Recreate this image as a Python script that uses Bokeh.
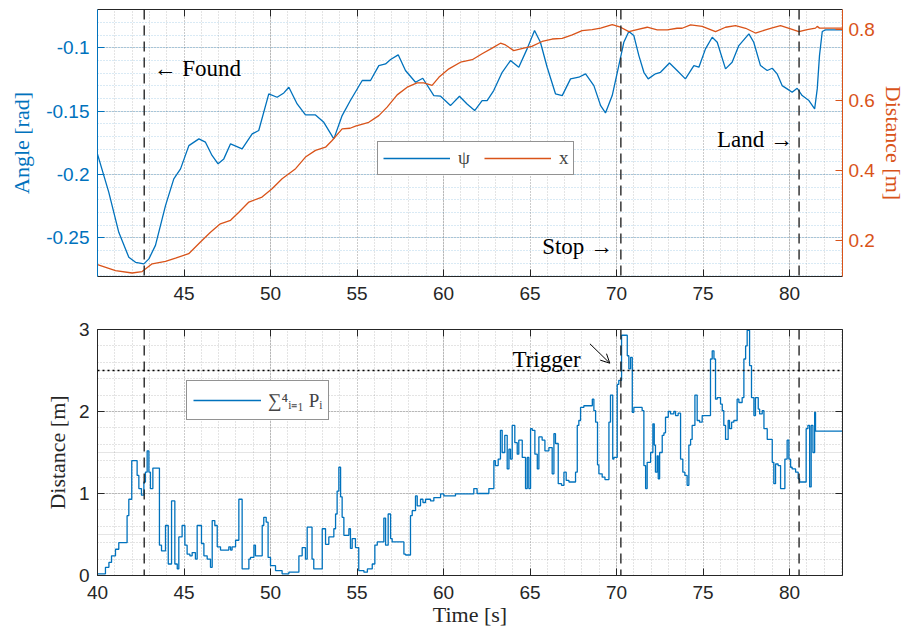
from bokeh.plotting import figure
from bokeh.layouts import column
from bokeh.models import (Range1d, LinearAxis, FixedTicker, Span, Label, Legend,
                          LegendItem, Arrow, OpenHead, Grid)
from bokeh.embed import file_html
from bokeh.resources import INLINE

BLUE = "#0072BD"
ORANGE = "#D95319"
AX = "#262626"

# ---------------- data ----------------
psi_t = [40.0, 40.65, 41.23, 41.81, 42.2, 42.68, 42.97, 43.35, 43.93, 44.41, 44.8, 45.28,
         45.86, 46.24, 46.62, 46.97, 47.3, 47.69, 48.36, 48.94, 49.32, 49.9, 50.38, 50.77,
         51.06, 51.54, 52.02, 52.6, 53.08, 53.66, 54.14, 54.6, 55.3, 55.78, 56.26, 56.65,
         56.94, 57.38, 57.8, 58.38, 58.8, 59.44, 59.83, 60.4, 60.92, 61.36, 61.8, 62.23,
         62.52, 62.9, 63.39, 63.87, 64.35, 64.83, 65.26, 65.6, 65.99, 66.47, 66.86, 67.34,
         67.82, 68.21, 68.69, 69.08, 69.36, 69.75, 70.13, 70.42, 70.71, 71.0, 71.29, 71.58,
         71.83, 72.25, 72.54, 73.06, 73.5, 73.98, 74.47, 74.76, 75.14, 75.53, 75.82, 76.3,
         76.68, 77.07, 77.65, 77.93, 78.32, 78.71, 79.0, 79.28, 79.57, 79.86, 80.15, 80.44,
         80.73, 81.12, 81.45, 81.6, 81.73, 81.89, 82.08, 83.06]
psi = [-0.184, -0.214, -0.2457, -0.2654, -0.2694, -0.2706, -0.2667, -0.256, -0.2246, -0.2035,
       -0.1956, -0.1772, -0.1719, -0.1745, -0.185, -0.1916, -0.1877, -0.1758, -0.1798, -0.168,
       -0.1653, -0.1363, -0.139, -0.1356, -0.1311, -0.1443, -0.153, -0.153, -0.1588, -0.1719,
       -0.1535, -0.142, -0.1258, -0.1258, -0.114, -0.1127, -0.1092, -0.1055, -0.1179, -0.1272,
       -0.124, -0.1377, -0.1382, -0.1456, -0.1382, -0.1443, -0.1495, -0.1416, -0.1416, -0.1337,
       -0.1193, -0.11, -0.1153, -0.1008, -0.0863, -0.0956, -0.1153, -0.1363, -0.1377, -0.1245,
       -0.1232, -0.1205, -0.1298, -0.1456, -0.1514, -0.1377, -0.114, -0.0956, -0.0871, -0.0903,
       -0.1061, -0.1193, -0.1245, -0.1205, -0.1193, -0.1119, -0.1179, -0.1245, -0.114, -0.1153,
       -0.1008, -0.0916, -0.0956, -0.1166, -0.1114, -0.0982, -0.0889, -0.0956, -0.114, -0.1179,
       -0.1161, -0.1205, -0.1298, -0.1324, -0.1351, -0.1319, -0.1377, -0.1416, -0.1482, -0.1324,
       -0.1061, -0.0871, -0.0858, -0.0858]

x_t = [40.0, 41.04, 42.0, 42.58, 43.16, 43.93, 44.51, 45.27, 45.95, 46.53, 47.1, 47.69,
       48.17, 48.75, 49.51, 50.09, 50.67, 51.45, 52.02, 52.6, 53.18, 53.56, 54.14, 54.6,
       54.91, 55.68, 56.26, 56.74, 57.32, 57.9, 58.47, 58.86, 59.34, 59.73, 60.31, 60.98,
       61.66, 62.23, 62.81, 63.29, 63.58, 64.06, 64.64, 65.1, 65.7, 66.28, 66.86, 67.44,
       68.01, 68.59, 69.08, 69.75, 70.23, 70.71, 71.19, 71.77, 72.35, 72.93, 73.5, 73.79,
       74.28, 74.95, 75.72, 76.3, 76.88, 77.46, 78.03, 78.61, 79.0, 79.48, 80.06, 80.54,
       81.02, 81.5, 81.6, 81.73, 83.06]
x_dist = [0.132, 0.115, 0.108, 0.112, 0.134, 0.141, 0.150, 0.163, 0.196, 0.224, 0.248, 0.258,
          0.281, 0.310, 0.324, 0.348, 0.376, 0.405, 0.438, 0.457, 0.466, 0.485, 0.518, 0.520,
          0.526, 0.537, 0.556, 0.580, 0.615, 0.637, 0.649, 0.649, 0.642, 0.665, 0.689, 0.708,
          0.715, 0.732, 0.748, 0.762, 0.757, 0.741, 0.748, 0.753, 0.767, 0.774, 0.776, 0.786,
          0.798, 0.801, 0.805, 0.815, 0.8075, 0.795, 0.801, 0.8075, 0.800, 0.800, 0.8046, 0.8046,
          0.814, 0.810, 0.795, 0.8075, 0.812, 0.8046, 0.791, 0.800, 0.806, 0.812, 0.803, 0.795,
          0.801, 0.805, 0.810, 0.805, 0.805]

p_t = [40.0, 40.46, 40.66, 40.81, 41.04, 41.23, 41.71, 41.81, 41.98, 42.29, 42.39, 42.54,
       42.68, 42.77, 42.87, 42.97, 43.06, 43.2, 43.58, 43.7, 43.93, 44.09, 44.28, 44.47,
       44.61, 44.7, 44.89, 45.05, 45.18, 45.34, 45.47, 45.66, 45.76, 46.01, 46.15, 46.34,
       46.53, 46.63, 46.78, 46.92, 47.11, 47.59, 47.69, 47.78, 47.98, 48.17, 48.36, 48.75,
       48.84, 49.04, 49.13, 49.52, 49.61, 49.75, 49.86, 50.0, 50.29, 50.67, 51.06, 51.64,
       51.83, 52.02, 52.12, 52.4, 52.5, 52.99, 53.18, 53.37, 53.66, 53.76, 53.85, 53.95,
       54.05, 54.14, 54.24, 54.53, 54.62, 54.72, 54.91, 55.1, 55.4, 55.6, 55.88, 56.03,
       56.17, 56.55, 56.65, 56.8, 56.94, 57.03, 57.71, 57.81, 58.09, 58.19, 58.38, 58.48,
       58.67, 58.81, 58.96, 59.25, 59.44, 59.83, 60.02, 60.69, 61.75, 61.94, 62.62, 62.91,
       63.0, 63.16, 63.29, 63.39, 63.54, 63.68, 63.78, 63.87, 63.97, 64.12, 64.26, 64.35,
       64.55, 64.74, 64.84, 64.93, 65.03, 65.13, 65.28, 65.42, 65.51, 65.7, 65.86, 66.09,
       66.28, 66.38, 66.47, 66.63, 66.82, 66.96, 67.09, 67.25, 67.63, 67.73, 67.82, 67.92,
       68.11, 68.6, 68.69, 68.79, 68.9, 68.98, 69.17, 69.33, 69.56, 69.65, 69.78, 69.85,
       70.04, 70.13, 70.29, 70.62, 70.71, 70.81, 70.91, 71.0, 71.48, 71.58, 71.68, 71.77,
       71.97, 72.1, 72.18, 72.25, 72.35, 72.41, 72.49, 72.64, 72.74, 72.83, 72.99, 73.12,
       73.31, 73.41, 73.56, 73.7, 73.83, 73.95, 74.08, 74.18, 74.28, 74.37, 74.53, 74.66,
       74.8, 74.95, 75.43, 75.53, 75.63, 75.72, 75.82, 76.01, 76.11, 76.2, 76.3, 76.45,
       76.53, 76.65, 76.78, 76.97, 77.07, 77.26, 77.36, 77.46, 77.55, 77.69, 77.8, 77.94,
       78.03, 78.19, 78.27, 78.42, 78.52, 78.71, 79.0, 79.09, 79.19, 79.34, 79.48, 79.73,
       79.86, 79.96, 80.06, 80.15, 80.35, 80.5, 80.58, 80.96, 81.06, 81.16, 81.25, 81.35,
       81.45, 81.5, 83.06]
p_sum = [0.02, 0.10, 0.16, 0.24, 0.32, 0.40, 0.73, 0.93, 1.40, 1.22, 1.06, 0.98,
         1.14, 1.26, 1.52, 1.26, 1.06, 1.31, 0.37, 0.30, 0.61, 0.14, 0.91, 0.14,
         0.08, 0.47, 0.61, 0.37, 0.26, 0.24, 0.28, 0.20, 0.61, 0.39, 0.24, 0.20,
         0.10, 0.67, 0.61, 0.35, 0.31, 0.35, 0.31, 0.35, 0.43, 0.93, 0.08, 0.20,
         0.22, 0.37, 0.24, 0.61, 0.71, 0.65, 0.22, 0.12, 0.06, 0.02, 0.04, 0.24,
         0.34, 0.20, 0.59, 0.20, 0.08, 0.57, 0.38, 0.47, 0.57, 0.75, 1.03, 1.32,
         0.96, 0.71, 0.49, 0.57, 0.33, 0.45, 0.34, 0.06, 0.04, 0.08, 0.14, 0.37,
         0.41, 0.70, 0.37, 0.75, 0.45, 0.41, 0.26, 0.25, 0.73, 0.79, 0.97, 0.85,
         0.93, 0.89, 0.93, 0.91, 0.95, 0.995, 0.97, 0.995, 1.06, 1.00, 1.06, 1.40,
         1.34, 1.42, 1.77, 1.50, 1.71, 1.30, 1.54, 1.42, 1.83, 1.62, 1.48, 1.65,
         1.44, 1.06, 1.44, 1.06, 1.79, 1.77, 1.48, 1.30, 1.69, 1.65, 1.52, 1.56,
         1.24, 1.73, 1.61, 1.12, 1.10, 1.26, 1.16, 1.14, 1.26, 1.83, 1.89, 2.05,
         2.07, 2.15, 2.01, 1.87, 1.35, 1.24, 1.20, 1.17, 1.87, 2.20, 1.42, 1.44,
         2.33, 2.38, 2.93, 2.68, 2.52, 2.66, 1.99, 2.05, 2.01, 1.34, 1.06, 1.38,
         1.50, 1.85, 1.59, 1.26, 1.46, 1.18, 1.50, 1.71, 1.74, 1.93, 2.00, 1.97,
         2.00, 1.95, 1.98, 1.42, 1.26, 1.22, 1.10, 1.59, 1.66, 1.83, 2.20, 1.89,
         1.87, 1.95, 2.64, 2.74, 2.64, 2.15, 2.17, 2.09, 2.01, 1.83, 1.66, 1.89,
         1.79, 1.87, 1.89, 2.15, 2.11, 2.17, 2.64, 2.80, 2.99, 2.56, 2.17, 1.95,
         2.17, 2.03, 1.97, 2.01, 1.79, 1.66, 1.38, 1.12, 1.36, 1.34, 1.06, 1.42,
         1.65, 1.42, 1.32, 1.30, 1.26, 1.18, 1.14, 1.79, 1.83, 1.08, 1.83, 1.50,
         1.99, 1.76, 1.76]

events = [42.7, 70.25, 80.55]      # Found, Stop, Land
trigger_level = 2.5

time_ticks_top = [45, 50, 55, 60, 65, 70, 75, 80]
time_ticks = [40, 45, 50, 55, 60, 65, 70, 75, 80]
angle_ticks = [-0.25, -0.2, -0.15, -0.1]
dist_ticks = [0.2, 0.4, 0.6, 0.8]
p_ticks = [0, 1, 2, 3]

# ---------------- helpers ----------------
TICK_FONT = "Liberation Sans"
LABEL_FONT = "Liberation Serif"
minor_time = list(range(40, 84))
minor_angle = [round(-0.28 + 0.01 * i, 2) for i in range(22)]
minor_p = [round(0.2 * i, 1) for i in range(16)]


def style_axis(ax, color, labels=True, standoff=8, label_standoff=5):
    ax.axis_line_color = color
    ax.axis_line_width = 1
    ax.major_tick_line_color = color
    ax.major_tick_in = 7
    ax.major_tick_out = 0
    ax.minor_tick_line_color = None
    ax.minor_tick_in = 0
    ax.minor_tick_out = 0
    ax.major_label_text_color = color
    ax.major_label_text_font = TICK_FONT
    ax.axis_label_text_font = LABEL_FONT
    ax.axis_label_text_font_size = "22px"
    ax.axis_label_text_font_style = "normal"
    ax.axis_label_text_color = color
    ax.axis_label_standoff = label_standoff
    if labels:
        ax.major_label_text_font_size = "19px"
        ax.major_label_standoff = standoff
    else:
        ax.major_label_text_font_size = "0px"
        ax.major_label_standoff = 0
        ax.major_label_text_alpha = 0


def overrides(ticks):
    return {t: f"{t:g}" for t in ticks}


def grid(dim, ticker, color, alpha):
    return Grid(dimension=dim, ticker=ticker,
                grid_line_color=color, grid_line_alpha=alpha, grid_line_dash="1 2",
                minor_grid_line_color=color, minor_grid_line_alpha=alpha,
                minor_grid_line_dash="1 2")


# ---------------- top panel ----------------
p1 = figure(frame_width=745, frame_height=267, min_border_left=97, min_border_right=66,
            min_border_top=9, min_border_bottom=38,
            x_range=Range1d(40, 83.06), y_range=Range1d(-0.2806, -0.0697),
            x_axis_location=None, y_axis_location=None,
            output_backend="svg", toolbar_location=None)
p1.outline_line_color = None
p1.extra_y_ranges = {"dist": Range1d(0.098, 0.858)}

xt1 = FixedTicker(ticks=time_ticks_top, minor_ticks=minor_time)
yt1 = FixedTicker(ticks=angle_ticks, minor_ticks=minor_angle)
p1.add_layout(grid(0, FixedTicker(ticks=time_ticks_top, minor_ticks=minor_time), AX, 0.25))
p1.add_layout(grid(1, yt1, BLUE, 0.3))

b1 = LinearAxis(ticker=xt1, major_label_overrides=overrides(time_ticks_top))
style_axis(b1, AX, standoff=10)
p1.add_layout(b1, "below")
a1 = LinearAxis(ticker=FixedTicker(ticks=time_ticks_top))
style_axis(a1, AX, labels=False)
p1.add_layout(a1, "above")
l1 = LinearAxis(ticker=yt1, axis_label="Angle [rad]", major_label_overrides=overrides(angle_ticks))
style_axis(l1, BLUE, standoff=8, label_standoff=9)
p1.add_layout(l1, "left")
r1ax = LinearAxis(y_range_name="dist", ticker=FixedTicker(ticks=dist_ticks),
                  axis_label="Distance [m]", major_label_overrides=overrides(dist_ticks))
style_axis(r1ax, ORANGE, standoff=6, label_standoff=3)
p1.add_layout(r1ax, "right")

for ev in events:
    p1.add_layout(Span(location=ev, dimension="height", line_color=AX,
                       line_dash="10 6", line_width=1.4))

r_psi = p1.line(psi_t, psi, color=BLUE, line_width=1.3)
r_x = p1.line(x_t, x_dist, color=ORANGE, line_width=1.3, y_range_name="dist")

leg1 = Legend(items=[LegendItem(label="ψ", renderers=[r_psi]),
                     LegendItem(label="x", renderers=[r_x])],
              orientation="horizontal", location=(280, 101), margin=0, padding=5,
              spacing=14, glyph_width=67, glyph_height=18, label_width=8, label_height=18,
              label_standoff=8, label_text_font=LABEL_FONT, label_text_font_size="19px",
              border_line_color=AX, border_line_width=1, background_fill_alpha=1)
p1.add_layout(leg1)

text_kw = dict(text_font=LABEL_FONT, text_font_size="23px", text_color="#000000",
               text_baseline="alphabetic")
p1.add_layout(Label(x=43.24, y=-0.1166, text="← Found", **text_kw))
p1.add_layout(Label(x=69.8, y=-0.2570, text="Stop →", text_align="right", **text_kw))
p1.add_layout(Label(x=80.2, y=-0.1727, text="Land →", text_align="right", **text_kw))

# ---------------- bottom panel ----------------
p2 = figure(frame_width=745, frame_height=246, min_border_left=97, min_border_right=66,
            min_border_top=15, min_border_bottom=60,
            x_range=Range1d(40, 83.06), y_range=Range1d(0, 3),
            x_axis_location=None, y_axis_location=None,
            output_backend="svg", toolbar_location=None)
p2.outline_line_color = None

xt2 = FixedTicker(ticks=time_ticks, minor_ticks=minor_time)
yt2 = FixedTicker(ticks=p_ticks, minor_ticks=minor_p)
p2.add_layout(grid(0, xt2, AX, 0.25))
p2.add_layout(grid(1, yt2, AX, 0.25))

b2 = LinearAxis(ticker=xt2, axis_label="Time [s]", major_label_overrides=overrides(time_ticks))
style_axis(b2, AX, standoff=10, label_standoff=0)
p2.add_layout(b2, "below")
a2 = LinearAxis(ticker=FixedTicker(ticks=time_ticks))
style_axis(a2, AX, labels=False)
p2.add_layout(a2, "above")
l2 = LinearAxis(ticker=yt2, axis_label="Distance [m]", major_label_overrides=overrides(p_ticks))
style_axis(l2, AX, standoff=8, label_standoff=6)
p2.add_layout(l2, "left")
r2ax = LinearAxis(ticker=FixedTicker(ticks=p_ticks))
style_axis(r2ax, AX, labels=False)
p2.add_layout(r2ax, "right")

for ev in events:
    p2.add_layout(Span(location=ev, dimension="height", line_color=AX,
                       line_dash="10 6", line_width=1.4))
p2.add_layout(Span(location=trigger_level, dimension="width", line_color="#000000",
                   line_dash="2 3", line_width=1.4))

r_p = p2.step(p_t, p_sum, mode="after", color=BLUE, line_width=1.3)

leg2 = Legend(items=[LegendItem(label="∑⁴ᵢ₌₁ Pᵢ", renderers=[r_p])],
              location=(89, 155), margin=0, padding=6,
              glyph_width=68, glyph_height=18, label_height=18, label_standoff=7,
              label_text_font=LABEL_FONT, label_text_font_size="19px",
              border_line_color=AX, border_line_width=1, background_fill_alpha=1)
p2.add_layout(leg2)

p2.add_layout(Label(x=67.92, y=2.63, text="Trigger", text_align="right", **text_kw))
p2.add_layout(Arrow(x_start=68.46, y_start=2.826, x_end=69.61, y_end=2.589,
                    line_color="#000000", line_width=1,
                    end=OpenHead(size=9, line_width=1, line_color="#000000")))

layout = column(p1, p2)
open("out.html", "w").write(file_html(layout, INLINE))
